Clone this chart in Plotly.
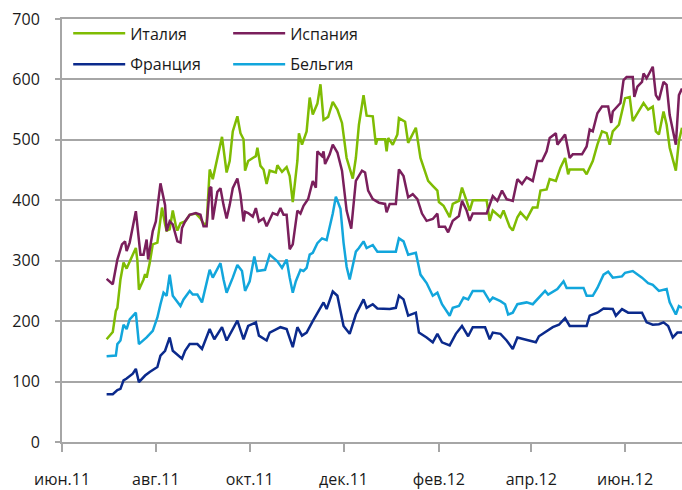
import plotly.graph_objects as go
import pandas as pd

# days counted from 2011-06-01
start = pd.Timestamp("2011-06-01")

italy_day = [29, 33, 35, 36, 38, 40, 42, 44, 46, 48, 49, 50, 53, 54, 55, 57, 59, 62, 64, 65, 67, 68, 70, 72, 74, 75, 77,
             80, 83, 87, 90, 92, 94, 96, 98, 101, 104, 107, 109, 111, 114, 116, 118, 119, 121, 124, 126, 127, 129, 131,
             133, 135, 139, 140, 143, 146, 148, 150, 153, 154, 156, 159, 161, 163, 166, 168, 170, 173, 176, 179, 182,
             185, 189, 191, 193, 196, 198, 202, 204, 205, 210, 211, 212, 215, 218, 219, 223, 225, 230, 233, 236, 238,
             241, 244, 245, 248, 252, 254, 258, 260, 263, 265, 267, 276, 278, 280, 285, 287, 291, 293, 296, 298, 302,
             306, 309, 311, 315, 317, 321, 324, 327, 329, 330, 339, 341, 345, 348, 351, 354, 356, 358, 362, 364, 366,
             369, 371, 374, 378, 381, 384, 386, 388, 391, 393, 395, 399, 401, 403]
italy = [170, 182, 217, 222, 269, 297, 287, 300, 310, 321, 300, 252, 269, 278, 272, 296, 327, 330, 370, 388, 360, 350,
         352, 383, 358, 350, 362, 365, 376, 378, 370, 361, 361, 451, 435, 472, 505, 446, 465, 514, 539, 511, 501, 449,
         465, 470, 473, 487, 457, 451, 427, 449, 446, 458, 447, 455, 440, 397, 465, 511, 492, 514, 570, 542, 560, 592,
         533, 538, 563, 550, 528, 470, 436, 470, 525, 574, 540, 539, 492, 501, 501, 481, 503, 492, 509, 536, 530, 495,
         520, 470, 449, 432, 424, 416, 397, 391, 372, 394, 399, 421, 399, 383, 400, 400, 366, 383, 372, 383, 356, 350,
         372, 380, 369, 388, 388, 416, 418, 435, 432, 454, 470, 443, 451, 451, 443, 465, 492, 514, 511, 492, 514, 525,
         547, 569, 571, 531, 544, 561, 550, 555, 514, 509, 547, 525, 487, 449, 498, 520]

spain_day = [29, 33, 36, 39, 41, 42, 44, 48, 51, 53, 55, 56, 59, 61, 62, 64, 67, 68, 70, 72, 75, 77, 78, 80, 83, 87, 90,
             92, 94, 96, 97, 98, 101, 103, 105, 107, 109, 111, 114, 116, 118, 119, 121, 124, 126, 128, 131, 133, 137,
             140, 142, 144, 146, 148, 150, 153, 155, 157, 160, 163, 165, 166, 169, 170, 171, 174, 176, 179, 182, 185,
             188, 191, 195, 197, 199, 202, 206, 210, 211, 213, 217, 219, 222, 225, 228, 231, 234, 237, 241, 244, 245,
             249, 251, 254, 258, 260, 263, 265, 267, 276, 280, 283, 286, 289, 293, 296, 299, 302, 306, 309, 312, 315,
             317, 321, 322, 327, 330, 332, 338, 341, 343, 345, 348, 351, 355, 357, 358, 363, 365, 367, 371, 372, 374,
             377, 378, 380, 384, 386, 388, 391, 393, 395, 399, 401, 403]
spain = [270, 261, 302, 327, 332, 316, 330, 382, 310, 310, 335, 302, 349, 365, 387, 428, 392, 349, 365, 360, 332, 330,
         354, 365, 376, 379, 376, 357, 357, 420, 422, 368, 414, 420, 392, 370, 392, 420, 436, 409, 365, 381, 379, 373,
         387, 365, 370, 357, 379, 376, 387, 376, 376, 319, 327, 383, 378, 391, 402, 432, 421, 481, 473, 481, 460, 476,
         492, 479, 449, 383, 353, 432, 449, 446, 416, 402, 396, 394, 380, 394, 394, 451, 440, 405, 410, 402, 378, 366,
         369, 378, 356, 356, 347, 366, 374, 399, 383, 366, 378, 378, 407, 399, 416, 402, 399, 435, 427, 438, 432, 465,
         465, 481, 503, 511, 492, 509, 470, 476, 476, 489, 517, 514, 544, 555, 555, 528, 547, 561, 599, 604, 604, 571,
         588, 596, 610, 602, 621, 574, 566, 596, 591, 541, 492, 574, 585]

france_day = [29, 33, 36, 38, 40, 42, 46, 48, 50, 54, 57, 62, 64, 67, 70, 72, 78, 80, 83, 88, 91, 96, 99, 104, 107, 114,
              118, 121, 126, 128, 133, 135, 142, 146, 150, 153, 156, 159, 163, 166, 170, 172, 176, 179, 183, 187, 191,
              196, 198, 202, 205, 213, 217, 219, 222, 225, 230, 232, 237, 241, 244, 247, 252, 256, 260, 264, 267, 275,
              278, 280, 285, 289, 293, 296, 300, 304, 308, 310, 315, 319, 323, 327, 330, 341, 343, 348, 352, 358, 360,
              364, 368, 377, 380, 384, 388, 391, 394, 397, 400, 403]
france = [79, 79, 86, 88, 102, 105, 113, 121, 99, 110, 116, 124, 143, 151, 173, 151, 138, 151, 162, 162, 154, 187, 170,
          190, 168, 201, 170, 192, 198, 176, 168, 181, 190, 187, 157, 190, 176, 181, 200, 214, 231, 220, 249, 242, 192,
          179, 211, 236, 222, 228, 221, 220, 222, 242, 236, 209, 214, 181, 173, 165, 179, 165, 160, 179, 192, 175, 190,
          190, 170, 181, 179, 168, 154, 173, 170, 168, 165, 175, 184, 190, 194, 205, 192, 192, 209, 214, 221, 220, 209,
          220, 214, 214, 198, 194, 195, 198, 192, 173, 181, 181]

belgium_day = [29, 35, 36, 38, 40, 42, 44, 48, 50, 55, 59, 62, 64, 66, 68, 70, 72, 77, 79, 83, 85, 88, 91, 93, 96, 98,
               103, 105, 107, 111, 114, 117, 119, 122, 125, 127, 132, 135, 140, 143, 146, 148, 150, 152, 155, 157, 159,
               161, 163, 166, 169, 172, 176, 178, 181, 183, 185, 187, 191, 193, 196, 198, 202, 205, 217, 219, 222, 225,
               230, 233, 237, 241, 244, 247, 252, 254, 258, 261, 264, 267, 274, 278, 280, 285, 288, 290, 293, 296, 302,
               306, 310, 314, 316, 322, 326, 328, 339, 341, 345, 348, 352, 355, 358, 364, 366, 371, 377, 381, 384, 388,
               393, 395, 399, 401, 403]
belgium = [142, 143, 162, 168, 194, 187, 203, 214, 162, 173, 184, 206, 228, 247, 242, 277, 242, 225, 236, 250, 244, 244,
           231, 255, 285, 272, 296, 269, 247, 272, 293, 283, 250, 266, 307, 283, 285, 310, 299, 288, 302, 272, 247, 266,
           285, 283, 288, 310, 313, 329, 337, 334, 378, 406, 386, 330, 290, 269, 315, 321, 332, 321, 326, 315, 315, 337,
           332, 310, 313, 277, 263, 242, 247, 228, 209, 222, 225, 239, 236, 250, 250, 233, 239, 233, 228, 211, 214, 228,
           231, 228, 239, 250, 244, 253, 266, 255, 255, 242, 242, 255, 277, 282, 272, 274, 280, 283, 272, 263, 260, 250,
           253, 231, 211, 225, 222]

tick_dates = ["2011-06-01", "2011-08-01", "2011-10-01", "2011-12-01", "2012-02-01", "2012-04-01", "2012-06-01"]
tick_text = ["июн.11", "авг.11", "окт.11", "дек.11", "фев.12", "апр.12", "июн.12"]


def to_dates(days):
    return start + pd.to_timedelta(days, unit="D")


series = [
    ("Италия", italy_day, italy, "#7fbc03", "legend"),
    ("Франция", france_day, france, "#0b2a8c", "legend"),
    ("Испания", spain_day, spain, "#7a1f5c", "legend2"),
    ("Бельгия", belgium_day, belgium, "#12a6dc", "legend2"),
]

fig = go.Figure()
for name, days, vals, color, leg in series:
    fig.add_trace(go.Scatter(x=to_dates(days), y=vals, mode="lines", name=name,
                             line=dict(color=color, width=2.5), legend=leg, legendgroup=name))

font = dict(family="Open Sans", size=16, color="#1a1a1a")
legend_style = dict(font=font, bgcolor="rgba(0,0,0,0)", itemwidth=52, tracegroupgap=7,
                    yanchor="top", xanchor="left", y=1.006)

fig.update_layout(
    width=682, height=490,
    margin=dict(l=62, r=0, t=19, b=44),
    paper_bgcolor="white", plot_bgcolor="white",
    font=font,
    legend=dict(x=0.01, **legend_style),
    legend2=dict(x=0.268, **legend_style),
)
# mirrored x line stands in for the 700 gridline that plotly skips at the edge
fig.update_xaxes(
    type="date", range=["2011-06-01", "2012-07-08"],
    tickvals=tick_dates, ticktext=tick_text,
    showgrid=False, showline=True, mirror=True, linecolor="#a6a6a6", linewidth=2,
    ticks="outside", ticklen=8, tickwidth=2, tickcolor="#a6a6a6",
    ticklabelstandoff=14, ticklabeloverflow="allow", zeroline=False,
)
fig.update_yaxes(
    range=[0, 700], dtick=100,
    showgrid=True, gridcolor="#a6a6a6", gridwidth=2,
    showline=True, linecolor="#a6a6a6", linewidth=2,
    ticks="outside", ticklen=5, tickwidth=2, tickcolor="#a6a6a6",
    ticklabelstandoff=12, ticklabeloverflow="allow", zeroline=False,
)

# drop the default page margin so the figure sits at the window's corner
fig.write_html("out.html", config={"displayModeBar": False},
               post_script="document.body.style.margin='0';document.body.style.overflow='hidden';")
